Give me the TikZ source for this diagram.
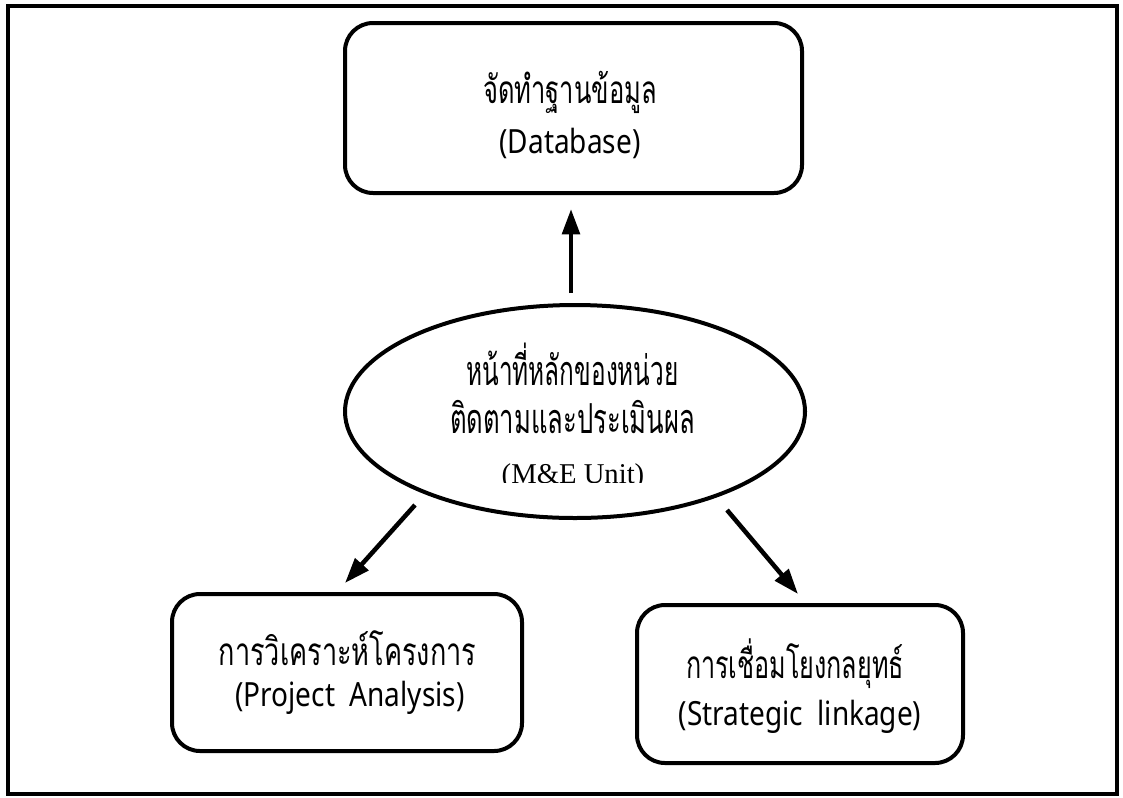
\documentclass[tikz,border=0pt]{standalone}
\usepackage{fontspec}
\setmainfont{Liberation Serif}
\newfontfamily\thaifont[Script=Thai]{Loma}
\newfontfamily\latfont{Noto Sans}
\newfontfamily\timesfont{Liberation Serif}
\newcommand\myxs[2]{\scalebox{#1}[1]{#2}}
\usetikzlibrary{shapes.geometric,arrows.meta}
\begin{document}
\begin{tikzpicture}[x=0.75pt,y=-0.75pt,
  box/.style={draw,line width=3pt,rounded corners=21pt,inner sep=0pt},
  oval/.style={draw,ellipse,line width=3pt,inner sep=0pt},
  thl/.style={anchor=base,inner sep=0pt,font=\thaifont\fontsize{29}{29}\selectfont},
  lat/.style={anchor=base,inner sep=0pt,font=\latfont\fontsize{25}{25}\selectfont},
  big/.style={anchor=base,inner sep=0pt,font=\thaifont\fontsize{31}{31}\selectfont},
  arr/.style={line width=3.4pt,-{Triangle[length=19pt,width=13pt]}}]
\useasboundingbox (0,0) rectangle (1123,797);
\fill[white] (0,0) rectangle (1123,797);
\draw[line width=2.6pt] (8,6) rectangle (1117,794);
% top box
\node[box,minimum width=457*0.75pt,minimum height=170*0.75pt] (db) at (573.5,108) {};
\node[thl] (dbt) at (570,103) {\myxs{0.66}{จัดทำฐานข้อมูล}};
\node[lat] (dbe) at (570,153) {\myxs{0.84}{(Database)}};
% ellipse
\node[oval,minimum width=460*0.75pt,minimum height=213*0.75pt] (me) at (575,411.5) {};
\node[big] (me1) at (572.5,385) {\myxs{0.59}{หน้าที่หลักของหน่วย}};
\node[big] (me2) at (572.5,433) {\myxs{0.62}{ติดตามและประเมินผล}};
\begin{scope}
\clip (440,440) rectangle (700,482.5);
\node[anchor=base,inner sep=0pt,font=\timesfont\fontsize{21.5}{24}\selectfont] (meu) at (573,483) {(M\&E Unit)};
\end{scope}
% left box
\node[box,minimum width=350*0.75pt,minimum height=157*0.75pt] (pa) at (347,672.5) {};
\node[thl] (pat) at (347.5,665) {\myxs{0.70}{การวิเคราะห์โครงการ}};
\node[lat] (pae) at (350,706) {\myxs{0.84}{(Project\ \ Analysis)}};
% right box
\node[box,minimum width=326*0.75pt,minimum height=158*0.75pt] (sl) at (800,684) {};
\node[thl] (slt) at (795,678) {\myxs{0.65}{การเชื่อมโยงกลยุทธ์}};
\node[lat] (sle) at (800,725) {\myxs{0.84}{(Strategic\ \ linkage)}};
% arrows
\draw[arr,shorten <=10*0.75pt,shorten >=14*0.75pt] (me.north -| 571,0) -- (db.south -| 571,0);
\coordinate (l1) at (415,505);
\coordinate (l2) at (345,583);
\coordinate (r1) at (727,510);
\coordinate (r2) at (798,594);
\draw[arr] (l1) -- (l2);
\draw[arr] (r1) -- (r2);
\end{tikzpicture}
\end{document}
